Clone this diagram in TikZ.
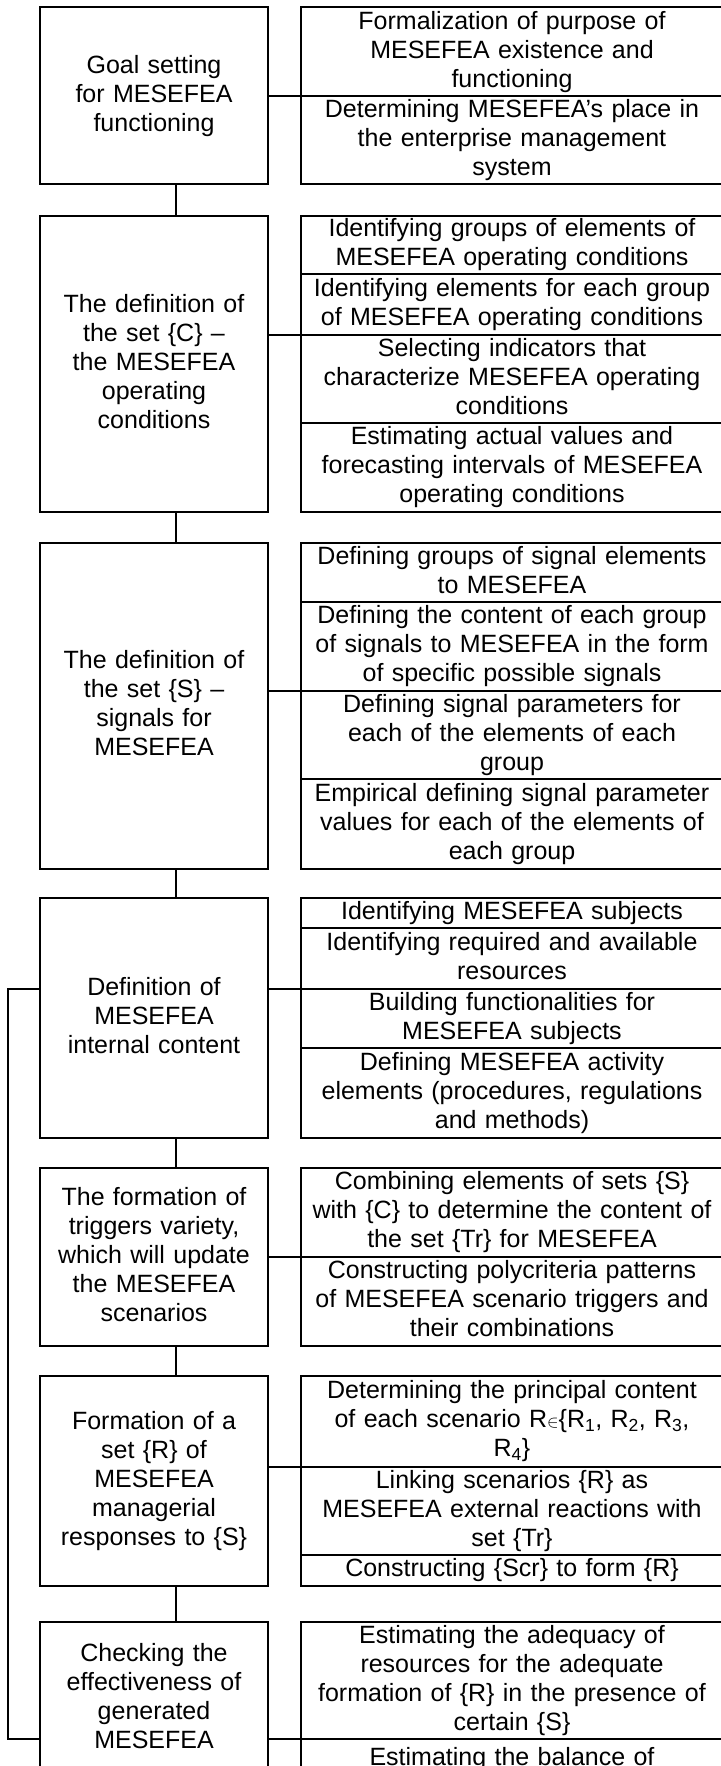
\documentclass[tikz,border=0pt]{standalone}
\usepackage{fontspec}
\setmainfont{Liberation Sans}
\usetikzlibrary{positioning}

\newcommand\lnstrut{\rule[-5.3pt]{0pt}{22.6pt}}

\begin{document}
\begin{tikzpicture}[x=1pt,y=-1pt,line width=2pt,
    box/.style={draw=black,outer sep=0pt,inner ysep=0pt,align=center,
        font=\fontsize{25}{29}\selectfont,
        execute at begin node=\lnstrut,execute at end node=\lnstrut},
    lbox/.style={box,anchor=north west,text width=220pt,inner xsep=4pt},
    rbox/.style={box,anchor=north west,text width=416pt,inner xsep=3pt}]
    \useasboundingbox (0,0) rectangle (720,1766);

    % goal setting
    \node[lbox,minimum height=177pt] (goal) at (40,7.3) {Goal setting\\for MESEFEA\\functioning};
    \node[rbox,minimum height=88.7pt] (goalA) at (301,7.3) {Formalization of purpose of\\MESEFEA existence and\\functioning};
    \node[rbox,minimum height=88.3pt,below=0pt of goalA] (goalB) {Determining MESEFEA's place in\\the enterprise management\\system};

    % set C
    \node[lbox,minimum height=296pt] (cond) at (40,215.7) {The definition of\\the set \{C\} –\\the MESEFEA\\operating\\conditions};
    \node[rbox,minimum height=58.3pt] (condA) at (301,215.7) {Identifying groups of elements of\\MESEFEA operating conditions};
    \node[rbox,minimum height=61pt,below=0pt of condA] (condB) {Identifying elements for each group\\of MESEFEA operating conditions};
    \node[rbox,minimum height=87.7pt,below=0pt of condB] (condC) {Selecting indicators that\\characterize MESEFEA operating\\conditions};
    \node[rbox,minimum height=89pt,below=0pt of condC] (condD) {Estimating actual values and\\forecasting intervals of MESEFEA\\operating conditions};

    % set S
    \node[lbox,minimum height=326pt] (sig) at (40,542.7) {The definition of\\the set \{S\} –\\signals for\\MESEFEA};
    \node[rbox,minimum height=59.6pt] (sigA) at (301,542.7) {Defining groups of signal elements\\to MESEFEA};
    \node[rbox,minimum height=88.4pt,below=0pt of sigA] (sigB) {Defining the content of each group\\of signals to MESEFEA in the form\\of specific possible signals};
    \node[rbox,minimum height=88.6pt,below=0pt of sigB] (sigC) {Defining signal parameters for\\each of the elements of each\\group};
    \node[rbox,minimum height=89.4pt,below=0pt of sigC] (sigD) {Empirical defining signal parameter\\values for each of the elements of\\each group};

    % internal content
    \node[lbox,minimum height=239.4pt] (intern) at (40,898.3) {Definition of\\MESEFEA\\internal content};
    \node[rbox,minimum height=29.4pt] (internA) at (301,898.3) {Identifying MESEFEA subjects};
    \node[rbox,minimum height=61.3pt,below=0pt of internA] (internB) {Identifying required and available\\resources};
    \node[rbox,minimum height=59.3pt,below=0pt of internB] (internC) {Building functionalities for\\MESEFEA subjects};
    \node[rbox,minimum height=89.4pt,below=0pt of internC] (internD) {Defining MESEFEA activity\\elements (procedures, regulations\\and methods)};

    % triggers
    \node[lbox,minimum height=178pt] (trig) at (40,1167.7) {The formation of\\triggers variety,\\which will update\\the MESEFEA\\scenarios};
    \node[rbox,minimum height=89pt] (trigA) at (301,1167.7) {Combining elements of sets \{S\}\\with \{C\} to determine the content of\\the set \{Tr\} for MESEFEA};
    \node[rbox,minimum height=89pt,below=0pt of trigA] (trigB) {Constructing polycriteria patterns\\of MESEFEA scenario triggers and\\their combinations};

    % responses
    \node[lbox,minimum height=209.7pt] (resp) at (40,1376) {Formation of a\\set \{R\} of\\MESEFEA\\managerial\\responses to \{S\}};
    \node[rbox,minimum height=90.7pt] (respA) at (301,1376) {Determining the principal content\\of each scenario R$\scriptstyle\in$\{R\textsubscript{1}, R\textsubscript{2}, R\textsubscript{3},\\R\textsubscript{4}\}};
    \node[rbox,minimum height=88pt,below=0pt of respA] (respB) {Linking scenarios \{R\} as\\MESEFEA external reactions with\\set \{Tr\}};
    \node[rbox,minimum height=31pt,below=0pt of respB] (respC) {Constructing \{Scr\} to form \{R\}};

    % checking
    \node[lbox,minimum height=153pt] (check) at (40,1622) {Checking the\\effectiveness of\\generated\\MESEFEA};
    \node[rbox,minimum height=117.3pt] (checkA) at (301,1622) {Estimating the adequacy of\\resources for the adequate\\formation of \{R\} in the presence of\\certain \{S\}};
    \node[rbox,minimum height=40pt,below=0pt of checkA] (checkB) {Estimating the balance of};

    % links
    \foreach \a/\b in {goal/cond,cond/sig,sig/intern,intern/trig,trig/resp,resp/check}
        \draw ([xshift=22pt]\a.south) -- ([xshift=22pt]\b.north);
    \foreach \a/\b in {goal/goalA,cond/condB,sig/sigB,intern/internB,trig/trigA,resp/respA,check/checkA}
        \draw (\b.south west) -- (\b.south west -| \a.east);
    \draw (internB.south west -| intern.west) -- ++(-32,0) |- (checkA.south west -| check.west);
\end{tikzpicture}
\end{document}
